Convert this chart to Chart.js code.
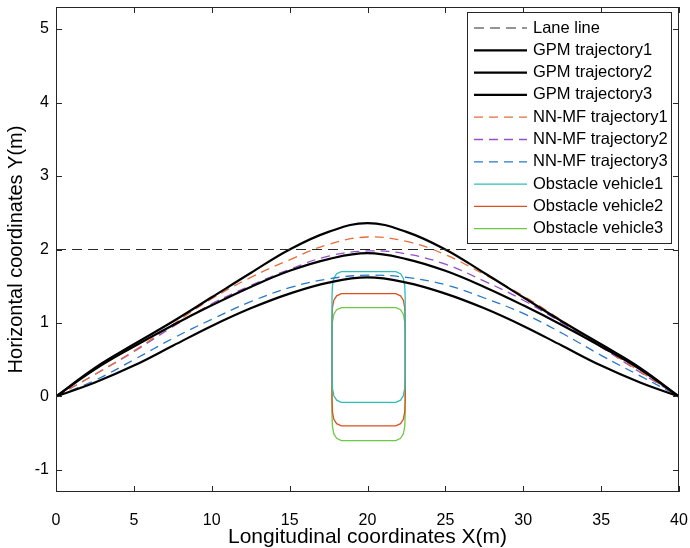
<!DOCTYPE html>
<html>
<head>
<meta charset="utf-8">
<script src="https://cdn.jsdelivr.net/npm/chart.js@4/dist/chart.umd.min.js"></script>
<style>
  html, body { margin: 0; padding: 0; background: #fff; }
  #wrap { width: 690px; height: 548px; }
</style>
</head>
<body>
<div id="wrap"><canvas id="trajChart" width="690" height="548"></canvas></div>
<script>
// longitudinal sample points shared by all trajectories
var X_POINTS = [0, 2.5, 5, 7.5, 10, 12.5, 15, 17.5, 20, 22.5, 25, 27.5, 30, 32.5, 35, 37.5, 40];
var LANE_X = [0, 40];
var LANE_Y = [2, 2];
var GPM1_Y = [0, 0.39, 0.71, 1.02, 1.35, 1.68, 2.00, 2.24, 2.36, 2.24, 2.00, 1.68, 1.35, 1.02, 0.71, 0.39, 0];
var GPM2_Y = [0, 0.37, 0.68, 0.97, 1.24, 1.49, 1.71, 1.87, 1.95, 1.87, 1.71, 1.49, 1.24, 0.97, 0.68, 0.37, 0];
var GPM3_Y = [0, 0.19, 0.42, 0.69, 0.96, 1.20, 1.40, 1.55, 1.62, 1.55, 1.40, 1.20, 0.96, 0.69, 0.42, 0.19, 0];
var NNMF1_Y = [0, 0.30, 0.62, 0.98, 1.33, 1.62, 1.86, 2.07, 2.17, 2.11, 1.93, 1.66, 1.37, 1.03, 0.68, 0.34, 0];
var NNMF2_Y = [0, 0.30, 0.61, 0.95, 1.26, 1.51, 1.73, 1.91, 1.98, 1.94, 1.80, 1.57, 1.31, 1.00, 0.67, 0.33, 0];
var NNMF3_Y = [0, 0.22, 0.50, 0.79, 1.05, 1.29, 1.48, 1.60, 1.65, 1.62, 1.52, 1.34, 1.13, 0.86, 0.56, 0.28, 0];

// obstacle outlines (rounded boxes)
var OBSTACLE_X = [17.72, 17.75, 17.84, 18.02, 18.32, 18.72, 21.42, 21.82, 22.12, 22.30, 22.39, 22.42,
                  22.42, 22.39, 22.30, 22.12, 21.82, 21.42, 18.72, 18.32, 18.02, 17.84, 17.75, 17.72, 17.72];
var OBSTACLE1_Y = [1.35, 1.51, 1.61, 1.67, 1.70, 1.70, 1.70, 1.70, 1.67, 1.61, 1.51, 1.35,
                   0.27, 0.11, 0.01, -0.05, -0.08, -0.08, -0.08, -0.08, -0.05, 0.01, 0.11, 0.27, 1.35];
var OBSTACLE2_Y = [1.05, 1.21, 1.31, 1.37, 1.40, 1.40, 1.40, 1.40, 1.37, 1.31, 1.21, 1.05,
                   -0.05, -0.21, -0.31, -0.37, -0.40, -0.40, -0.40, -0.40, -0.37, -0.31, -0.21, -0.05, 1.05];
var OBSTACLE3_Y = [0.86, 1.02, 1.12, 1.18, 1.21, 1.21, 1.21, 1.21, 1.18, 1.12, 1.02, 0.86,
                   -0.25, -0.41, -0.51, -0.57, -0.60, -0.60, -0.60, -0.60, -0.57, -0.51, -0.41, -0.25, 0.86];

var X_TICKS = [0, 5, 10, 15, 20, 25, 30, 35, 40];
var Y_TICKS = [-1, 0, 1, 2, 3, 4, 5];

var FONT = '"Liberation Sans", Arial, sans-serif';

function pts(xs, ys) {
    return xs.map((x, i) => ({x: x, y: ys[i]}));
}

function curve(label, xs, ys, color, width, dash, smooth) {
    return {
        label: label,
        data: pts(xs, ys),
        borderColor: color,
        backgroundColor: color,
        borderWidth: width,
        borderDash: dash,
        pointRadius: 0,
        fill: false,
        tension: smooth ? 0.4 : 0
    };
}

// box + inward ticks on all four sides, like the matlab axes
const framePlugin = {
    id: 'frame',
    afterDatasetsDraw(chart) {
        const ctx = chart.ctx;
        const a = chart.chartArea;
        const xs = chart.scales.x, ys = chart.scales.y;
        const tl = 6;
        ctx.save();
        ctx.strokeStyle = '#262626';
        ctx.lineWidth = 1;
        ctx.setLineDash([]);
        ctx.strokeRect(a.left + 0.5, a.top + 0.5, a.right - a.left - 1, a.bottom - a.top - 1);
        ctx.beginPath();
        X_TICKS.forEach(v => {
            const px = Math.round(xs.getPixelForValue(v)) + 0.5;
            ctx.moveTo(px, a.bottom); ctx.lineTo(px, a.bottom - tl);
            ctx.moveTo(px, a.top); ctx.lineTo(px, a.top + tl);
        });
        Y_TICKS.forEach(v => {
            const py = Math.round(ys.getPixelForValue(v)) + 0.5;
            ctx.moveTo(a.left, py); ctx.lineTo(a.left + tl, py);
            ctx.moveTo(a.right, py); ctx.lineTo(a.right - tl, py);
        });
        ctx.stroke();
        ctx.restore();
    }
};

// legend box in the top right corner of the plot
const boxLegend = {
    id: 'boxLegend',
    afterDraw(chart) {
        const ctx = chart.ctx;
        const a = chart.chartArea;
        const sets = chart.data.datasets;
        const w = 204, rowH = 22.3;
        const right = a.right - 8, top = a.top + 5;
        const left = right - w;
        const h = rowH * sets.length + 8;
        ctx.save();
        ctx.fillStyle = '#fff';
        ctx.fillRect(left, top, w, h);
        ctx.strokeStyle = '#262626';
        ctx.lineWidth = 1;
        ctx.strokeRect(Math.round(left) + 0.5, Math.round(top) + 0.5, w, Math.round(h));
        ctx.font = '16.5px ' + FONT;
        ctx.textBaseline = 'middle';
        sets.forEach((ds, i) => {
            const cy = top + 16 + i * rowH;
            ctx.beginPath();
            ctx.strokeStyle = ds.borderColor;
            ctx.lineWidth = ds.borderWidth;
            ctx.setLineDash(ds.borderDash || []);
            ctx.moveTo(left + 7, cy);
            ctx.lineTo(left + 60, cy);
            ctx.stroke();
            ctx.setLineDash([]);
            ctx.fillStyle = '#000';
            ctx.fillText(ds.label, left + 66, cy);
        });
        ctx.restore();
    }
};

new Chart(document.getElementById('trajChart'), {
    type: 'line',
    data: {
        datasets: [
            curve('Lane line', LANE_X, LANE_Y, '#2a2a2a', 1, [10, 6], false),
            curve('GPM trajectory1', X_POINTS, GPM1_Y, '#000000', 2.2, [], true),
            curve('GPM trajectory2', X_POINTS, GPM2_Y, '#000000', 2.2, [], true),
            curve('GPM trajectory3', X_POINTS, GPM3_Y, '#000000', 2.2, [], true),
            curve('NN-MF trajectory1', X_POINTS, NNMF1_Y, 'rgb(228,110,60)', 1.3, [9, 6], true),
            curve('NN-MF trajectory2', X_POINTS, NNMF2_Y, 'rgb(150,80,200)', 1.3, [9, 6], true),
            curve('NN-MF trajectory3', X_POINTS, NNMF3_Y, 'rgb(40,120,200)', 1.3, [9, 6], true),
            curve('Obstacle vehicle1', OBSTACLE_X, OBSTACLE1_Y, 'rgb(45,190,185)', 1.3, [], false),
            curve('Obstacle vehicle2', OBSTACLE_X, OBSTACLE2_Y, 'rgb(220,80,30)', 1.3, [], false),
            curve('Obstacle vehicle3', OBSTACLE_X, OBSTACLE3_Y, 'rgb(110,200,70)', 1.3, [], false)
        ]
    },
    options: {
        responsive: false,
        animation: false,
        layout: { padding: { left: 0, right: 11, top: 7, bottom: 0 } },
        plugins: {
            legend: { display: false },
            tooltip: { enabled: false }
        },
        scales: {
            x: {
                type: 'linear',
                min: 0,
                max: 40,
                grid: { display: false, drawTicks: false },
                border: { display: false },
                afterBuildTicks: s => { s.ticks = X_TICKS.map(v => ({value: v})); },
                afterFit: s => { s.height = 56; s.paddingLeft = 0; s.paddingRight = 0; },
                ticks: { color: '#000', padding: 19, maxRotation: 0, font: { family: FONT, size: 16 } },
                title: {
                    display: true,
                    text: 'Longitudinal coordinates X(m)',
                    color: '#000',
                    padding: { top: 0, bottom: 0 },
                    font: { family: FONT, size: 21, lineHeight: 1 }
                }
            },
            y: {
                type: 'linear',
                min: -1.3,
                max: 5.3,
                grid: { display: false, drawTicks: false },
                border: { display: false },
                afterBuildTicks: s => { s.ticks = Y_TICKS.map(v => ({value: v})); },
                afterFit: s => { s.width = 56; s.paddingTop = 0; s.paddingBottom = 0; },
                ticks: { color: '#000', padding: 7, font: { family: FONT, size: 16 } },
                title: {
                    display: true,
                    text: 'Horizontal coordinates Y(m)',
                    color: '#000',
                    padding: { top: 6, bottom: 0 },
                    font: { family: FONT, size: 20, lineHeight: 1 }
                }
            }
        }
    },
    plugins: [framePlugin, boxLegend]
});
</script>
</body>
</html>
